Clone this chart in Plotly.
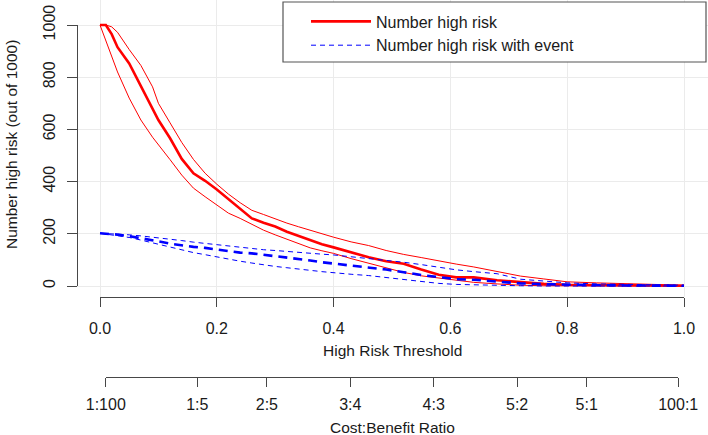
import plotly.graph_objects as go

# ---- data ----
threshold = [0, 0.01, 0.02, 0.03, 0.05, 0.07, 0.09, 0.1, 0.12, 0.14, 0.16, 0.18, 0.2,
             0.22, 0.24, 0.26, 0.28, 0.30, 0.32, 0.34, 0.36, 0.38, 0.40, 0.43, 0.46,
             0.49, 0.52, 0.55, 0.58, 0.61, 0.64, 0.68, 0.72, 0.76, 0.8, 0.85, 0.9, 0.95, 1.0]

high_risk = [1000, 1000, 965, 915, 853, 765, 680, 636, 566, 487, 432, 403, 370,
             334, 298, 259, 242, 228, 208, 192, 175, 160, 148, 130, 110,
             95, 85, 63, 43, 33, 33, 22, 15, 8, 5, 4, 3, 2, 1]
high_risk_upper = [1000, 1000, 993, 972, 906, 845, 763, 700, 625, 550, 485, 432, 390,
                   352, 319, 290, 274, 257, 241, 227, 213, 201, 187, 169, 155,
                   136, 121, 109, 96, 84, 73, 56, 38, 27, 16, 12, 9, 6, 3]
high_risk_lower = [1000, 940, 880, 820, 720, 636, 570, 540, 484, 425, 375, 342, 309,
                   279, 259, 235, 214, 196, 180, 163, 146, 135, 125, 105, 88,
                   70, 52, 39, 30, 21, 14, 8, 3, 1, 0, 0, 0, 0, 0]

with_event = [202, 201, 199, 197, 191, 184, 175, 171, 162, 155, 150, 146, 140,
              133, 128, 125, 120, 115, 110, 104, 98, 91, 86, 78, 70,
              63, 53, 42, 34, 26, 24, 17, 10, 7, 4, 3, 2, 2, 1]
with_event_upper = [202, 201, 200, 199, 196, 192, 187, 185, 181, 174, 168, 163, 158,
                    153, 148, 143, 139, 136, 132, 129, 125, 122, 119, 112, 106,
                    99, 91, 82, 72, 62, 55, 47, 26, 18, 12, 8, 6, 4, 3]
with_event_lower = [202, 199, 196, 192, 186, 176, 165, 160, 148, 137, 128, 120, 111,
                    103, 95, 88, 81, 75, 70, 66, 60, 55, 52, 45, 40,
                    32, 24, 16, 10, 6, 4, 2, 1, 0, 0, 0, 0, 0, 0]

x_ticks = [0, 0.2, 0.4, 0.6, 0.8, 1.0]
x_tick_labels = ["0.0", "0.2", "0.4", "0.6", "0.8", "1.0"]
y_ticks = [0, 200, 400, 600, 800, 1000]
cb_ticks = [1 / 101, 1 / 6, 2 / 7, 3 / 7, 4 / 7, 5 / 7, 5 / 6, 100 / 101]
cb_labels = ["1:100", "1:5", "2:5", "3:4", "4:3", "5:2", "5:1", "100:1"]

# ---- figure geometry (pixels) ----
W, H = 708, 435
FONT = "Liberation Sans, Arial, Helvetica, sans-serif"
AXC = "#474747"
TXT = "#1a1a1a"
GRID = "#ebebeb"

def px(x):
    return x / W

def py(y):
    return (H - y) / H

x0p, x1p = 100, 684      # threshold 0 and 1
y0p, y1p = 286, 25       # count 0 and 1000
sx = (x1p - x0p)
sy = (y0p - y1p) / 1000.0

fig = go.Figure()

red = "#ff0000"
blue = "#0000ff"

fig.add_trace(go.Scatter(x=threshold, y=high_risk_upper, mode="lines",
                         line=dict(color=red, width=1), showlegend=False))
fig.add_trace(go.Scatter(x=threshold, y=high_risk_lower, mode="lines",
                         line=dict(color=red, width=1), showlegend=False))
fig.add_trace(go.Scatter(x=threshold, y=high_risk, mode="lines", name="Number high risk",
                         line=dict(color=red, width=2.6)))
fig.add_trace(go.Scatter(x=threshold, y=with_event_upper, mode="lines",
                         name="Number high risk with event",
                         line=dict(color=blue, width=1, dash="5px,4px")))
fig.add_trace(go.Scatter(x=threshold, y=with_event_lower, mode="lines",
                         line=dict(color=blue, width=1, dash="5px,4px"), showlegend=False))
fig.add_trace(go.Scatter(x=threshold, y=with_event, mode="lines",
                         line=dict(color=blue, width=2.6, dash="9px,6px"), showlegend=False))

# empty traces to host the drawn axes
fig.add_trace(go.Scatter(x=[], y=[], xaxis="x2", yaxis="y2", showlegend=False, hoverinfo="skip"))
fig.add_trace(go.Scatter(x=[], y=[], xaxis="x3", yaxis="y2", showlegend=False, hoverinfo="skip"))

tickfont = dict(family=FONT, size=16, color=TXT)
titlefont = dict(family=FONT, size=15.5, color=TXT)

fig.update_layout(
    template="none",
    width=W, height=H,
    margin=dict(l=0, r=0, t=0, b=0, pad=0, autoexpand=False),
    paper_bgcolor="white", plot_bgcolor="rgba(0,0,0,0)",
    font=dict(family=FONT, color=TXT),
    xaxis=dict(domain=[px(77), 1.0],
               range=[(77 - x0p) / sx, 1 + (W - x1p) / sx],
               tickvals=x_ticks, showticklabels=False, ticks="",
               showgrid=True, gridcolor=GRID, gridwidth=1,
               zeroline=False, showline=False, anchor="y", automargin=False),
    yaxis=dict(domain=[py(297), 1.0],
               range=[-(297 - y0p) / sy, 1000 + y1p / sy],
               tickvals=y_ticks, showticklabels=False, ticks="",
               showgrid=True, gridcolor=GRID, gridwidth=1,
               zeroline=False, showline=False, anchor="x", automargin=False),
    xaxis2=dict(domain=[px(x0p), px(x1p)], range=[0, 1],
                anchor="free", position=py(297),
                tickvals=x_ticks, ticktext=x_tick_labels, tickfont=tickfont,
                ticks="outside", ticklen=9, tickcolor=AXC, tickwidth=1.2,
                ticklabelstandoff=8,
                showline=True, linecolor=AXC, linewidth=1.2,
                showgrid=False, zeroline=False, fixedrange=True, automargin=False),
    yaxis2=dict(domain=[py(y0p), py(y1p)], range=[0, 1000],
                anchor="free", position=px(77),
                tickvals=y_ticks, tickfont=tickfont, tickangle=-90,
                ticks="outside", ticklen=10, tickcolor=AXC, tickwidth=1.2,
                ticklabelstandoff=6,
                showline=True, linecolor=AXC, linewidth=1.2,
                showgrid=False, zeroline=False, fixedrange=True, automargin=False),
    xaxis3=dict(domain=[px(x0p + sx * cb_ticks[0]), px(x0p + sx * cb_ticks[-1])],
                range=[cb_ticks[0], cb_ticks[-1]],
                anchor="free", position=py(377),
                tickvals=cb_ticks, ticktext=cb_labels, tickfont=tickfont,
                ticks="outside", ticklen=9, tickcolor=AXC, tickwidth=1.2,
                ticklabelstandoff=4,
                showline=True, linecolor=AXC, linewidth=1.2,
                showgrid=False, zeroline=False, fixedrange=True, automargin=False),
    legend=dict(x=px(306), y=py(4.5), xanchor="left", yanchor="top",
                bgcolor="rgba(0,0,0,0)", borderwidth=0,
                font=dict(family=FONT, size=16, color=TXT),
                itemwidth=60, tracegroupgap=0),
    shapes=[dict(type="rect", xref="paper", yref="paper",
                 x0=px(283), x1=px(706), y0=py(62), y1=py(2),
                 line=dict(color="#555555", width=1.2), fillcolor="white", layer="above")],
    annotations=[
        dict(text="High Risk Threshold", x=px(392), y=py(350), xref="paper", yref="paper",
             showarrow=False, font=titlefont, xanchor="center", yanchor="middle"),
        dict(text="Cost:Benefit Ratio", x=px(392), y=py(427), xref="paper", yref="paper",
             showarrow=False, font=titlefont, xanchor="center", yanchor="middle"),
        dict(text="Number high risk (out of 1000)", x=px(11), y=py(145),
             xref="paper", yref="paper", textangle=-90,
             showarrow=False, font=titlefont, xanchor="center", yanchor="middle"),
    ],
)

fig.write_html("out.html", config={"displayModeBar": False},
               post_script="document.body.style.margin='0px';")
